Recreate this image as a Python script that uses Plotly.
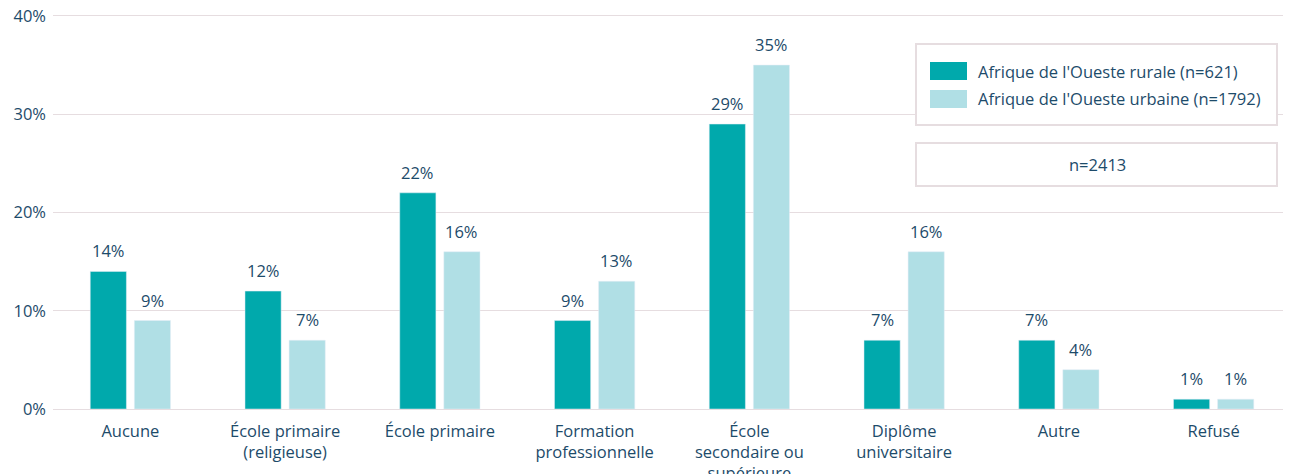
import plotly.graph_objects as go

categories = ["Aucune", "École primaire<br>(religieuse)", "École primaire", "Formation<br>professionnelle",
              "École<br>secondaire ou<br>supérieure", "Diplôme<br>universitaire", "Autre", "Refusé"]
rural = [14, 12, 22, 9, 29, 7, 7, 1]
urban = [9, 7, 16, 13, 35, 16, 4, 1]
series_names = ["Afrique de l'Oueste rurale (n=621)", "Afrique de l'Oueste urbaine (n=1792)"]
total_label = "n=2413"
y_ticks = [0, 10, 20, 30, 40]

C_RURAL = "#00A9AC"
C_URBAN = "#B0DFE5"
TXT = "#1d4b6a"
GRID = "#e6dde0"
FONT = "Open Sans, sans-serif"

fig = go.Figure()
fig.add_trace(go.Bar(x=categories, y=rural, name=series_names[0], marker_color=C_RURAL, showlegend=False))
fig.add_trace(go.Bar(x=categories, y=urban, name=series_names[1], marker_color=C_URBAN, showlegend=False))

annotations = []
for vals, shift in ((rural, -22), (urban, 22)):
    for c, v in zip(categories, vals):
        annotations.append(dict(x=c, y=v, xref="x", yref="y", text=f"{v}%", showarrow=False,
                                xshift=shift, yshift=7, yanchor="bottom",
                                font=dict(size=16.5, color=TXT, family=FONT)))

# custom legend (paper coordinates; plot area = 396 px tall, 40.3 units)
def py(page_y):
    return (409 - page_y) / 396.0

def px(page_x):
    return (page_x - 53) / 1238.0

shapes = [
    dict(type="rect", xref="paper", yref="paper", x0=px(916), x1=px(1277), y0=py(125), y1=py(44),
         line=dict(color=GRID, width=2), fillcolor="white", layer="above"),
    dict(type="rect", xref="paper", yref="paper", x0=px(930), x1=px(967), y0=py(80), y1=py(62),
         line=dict(width=0), fillcolor=C_RURAL, layer="above"),
    dict(type="rect", xref="paper", yref="paper", x0=px(930), x1=px(967), y0=py(108), y1=py(90),
         line=dict(width=0), fillcolor=C_URBAN, layer="above"),
    dict(type="rect", xref="paper", yref="paper", x0=px(916), x1=px(1277), y0=py(186), y1=py(143),
         line=dict(color=GRID, width=2), fillcolor="white", layer="above"),
]
for name, yc in zip(series_names, (71, 99)):
    annotations.append(dict(x=px(976), y=py(yc), xref="paper", yref="paper", text=name, showarrow=False,
                            xanchor="left", yanchor="middle", font=dict(size=16.5, color=TXT, family=FONT)))
annotations.append(dict(x=px(1097), y=py(164.5), xref="paper", yref="paper", text=total_label, showarrow=False,
                        xanchor="center", yanchor="middle", font=dict(size=16.5, color=TXT, family=FONT)))

# page body has an 8px margin, so the figure is 8px smaller and offset
fig.update_layout(
    width=1283, height=466,
    margin=dict(l=45, r=0, t=5, b=65),
    plot_bgcolor="white", paper_bgcolor="white",
    barmode="group", bargap=0.43, bargroupgap=0.18,
    font=dict(family=FONT, size=16.5, color=TXT),
    annotations=annotations, shapes=shapes,
    xaxis=dict(showgrid=False, showline=False, ticks="", automargin=False, ticklabelstandoff=10,
               tickfont=dict(size=16.5, color=TXT)),
    yaxis=dict(range=[0, 40.3], tickvals=y_ticks, ticktext=[f"{t}%" for t in y_ticks], automargin=False,
               showgrid=True, gridcolor=GRID, gridwidth=1, zeroline=True, zerolinecolor=GRID,
               zerolinewidth=1, showline=False, ticks="", ticklabelstandoff=6,
               ticklabeloverflow="allow", tickfont=dict(size=16.5, color=TXT)),
)

fig.write_html("out.html")
